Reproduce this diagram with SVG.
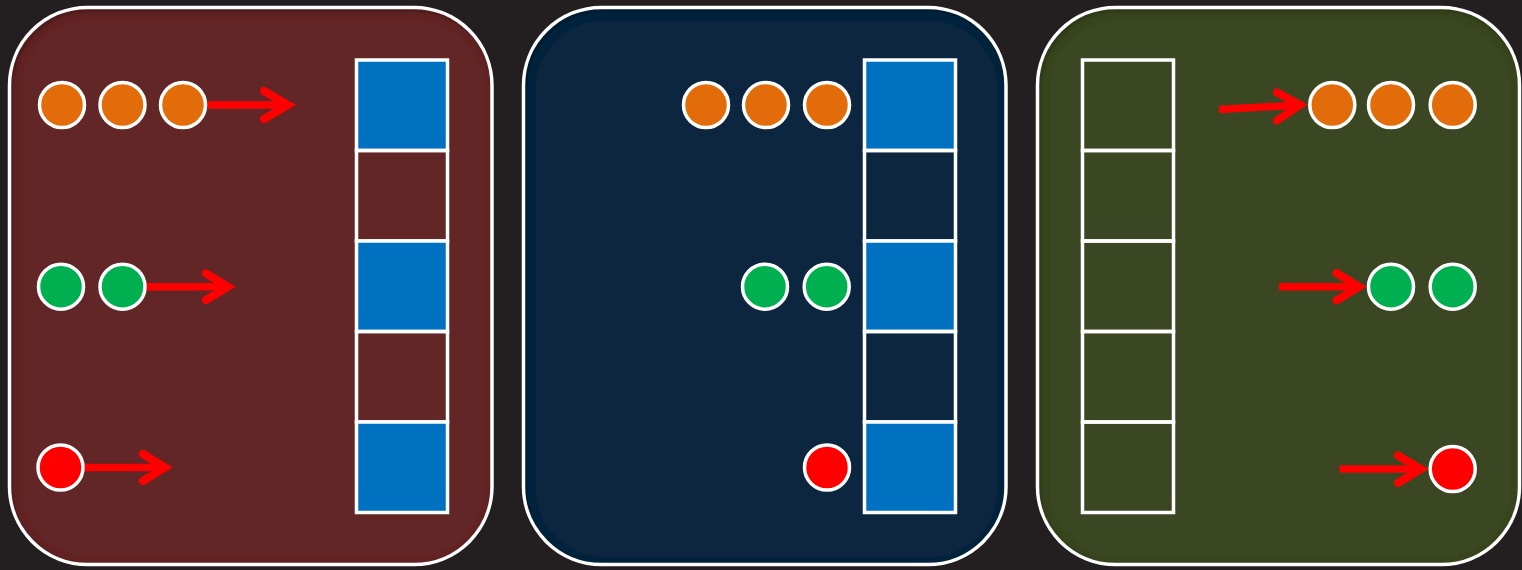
<svg xmlns="http://www.w3.org/2000/svg" width="1522" height="570" viewBox="0 0 1522 570">
<defs>
<filter id="inset" x="-10%" y="-10%" width="120%" height="120%">
<feFlood flood-color="#000" flood-opacity="0.6"/>
<feComposite in2="SourceAlpha" operator="out"/>
<feGaussianBlur stdDeviation="4"/>
<feOffset dx="2" dy="3"/>
<feComposite in2="SourceAlpha" operator="in" result="sh"/>
<feMerge><feMergeNode in="SourceGraphic"/><feMergeNode in="sh"/></feMerge>
</filter>
</defs>
<style>
.pb{stroke:#fff;stroke-width:3.5;fill:none}
.c{stroke:#fff;stroke-width:3.5}
.o{fill:#e36c0a}.g{fill:#00b050}.r{fill:#ff0000}
.cell{stroke:#fff;stroke-width:3.5;fill:none}
.blue{fill:#0070c0}
.ar{stroke:#ff0000;stroke-width:7.5;fill:none;stroke-linejoin:miter;stroke-linecap:butt}
.hd{stroke:#ff0000;stroke-width:8;fill:none;stroke-linejoin:miter;stroke-miterlimit:10;stroke-linecap:round}
</style>
<rect width="1522" height="570" fill="#231f20"/>

<g id="panel1">
<rect x="9.5" y="7.5" width="482.5" height="557" rx="78" fill="#632526" filter="url(#inset)"/>
<rect class="pb" x="9.5" y="7.5" width="482.5" height="557" rx="78"/>
</g>
<g id="panel2">
<rect x="523.5" y="7.5" width="482.5" height="557" rx="78" fill="#112540" filter="url(#inset)"/>
<rect class="pb" x="523.5" y="7.5" width="482.5" height="557" rx="78"/>
</g>
<g id="panel3">
<rect x="1037.5" y="7.5" width="482" height="557" rx="78" fill="#3a4720" filter="url(#inset)"/>
<rect class="pb" x="1037.5" y="7.5" width="482" height="557" rx="78"/>
</g>

<g id="column1">
<rect class="cell blue" x="356.5" y="60" width="91" height="90.5"/>
<rect class="cell" x="356.5" y="150.5" width="91" height="90.5"/>
<rect class="cell blue" x="356.5" y="241" width="91" height="90.5"/>
<rect class="cell" x="356.5" y="331.5" width="91" height="90.5"/>
<rect class="cell blue" x="356.5" y="422" width="91" height="90.5"/>
</g>
<g id="column2">
<rect class="cell blue" x="864.5" y="60" width="91" height="90.5"/>
<rect class="cell" x="864.5" y="150.5" width="91" height="90.5"/>
<rect class="cell blue" x="864.5" y="241" width="91" height="90.5"/>
<rect class="cell" x="864.5" y="331.5" width="91" height="90.5"/>
<rect class="cell blue" x="864.5" y="422" width="91" height="90.5"/>
</g>
<g id="column3">
<rect class="cell" x="1082.5" y="60" width="91" height="90.5"/>
<rect class="cell" x="1082.5" y="150.5" width="91" height="90.5"/>
<rect class="cell" x="1082.5" y="241" width="91" height="90.5"/>
<rect class="cell" x="1082.5" y="331.5" width="91" height="90.5"/>
<rect class="cell" x="1082.5" y="422" width="91" height="90.5"/>
</g>

<g id="connectors">
<path class="ar" d="M205 105 H289"/>
<path class="hd" d="M264 91 L288 105 L264 119"/>
<path class="ar" d="M144 286.7 H228"/>
<path class="hd" d="M206 273.5 L228 286.7 L206 300"/>
<path class="ar" d="M82 467.5 H166"/>
<path class="hd" d="M143 454 L165 467.5 L143 481"/>
<path class="ar" d="M1219 109.5 L1301 105"/>
<path class="hd" d="M1277 92.5 L1300 104.8 L1277 120.5"/>
<path class="ar" d="M1279 286.7 H1360"/>
<path class="hd" d="M1336.5 273 L1359 286.7 L1336.5 300.5"/>
<path class="ar" d="M1339.5 469 H1422"/>
<path class="hd" d="M1398 455.5 L1421 469 L1398 483"/>
</g>

<g id="circles1">
<circle class="c o" cx="62" cy="105" r="22.5"/>
<circle class="c o" cx="122.5" cy="105" r="22.5"/>
<circle class="c o" cx="183" cy="105" r="22.5"/>
<circle class="c g" cx="61" cy="286.7" r="22.5"/>
<circle class="c g" cx="122.5" cy="286.7" r="22.5"/>
<circle class="c r" cx="60.5" cy="467.5" r="22.5"/>
</g>
<g id="circles2">
<circle class="c o" cx="706" cy="105" r="22.5"/>
<circle class="c o" cx="766" cy="105" r="22.5"/>
<circle class="c o" cx="827" cy="105" r="22.5"/>
<circle class="c g" cx="765" cy="286.7" r="22.5"/>
<circle class="c g" cx="826.7" cy="286.7" r="22.5"/>
<circle class="c r" cx="827" cy="467.5" r="22.5"/>
</g>
<g id="circles3">
<circle class="c o" cx="1332.3" cy="105" r="22.5"/>
<circle class="c o" cx="1391" cy="105" r="22.5"/>
<circle class="c o" cx="1452.7" cy="105" r="22.5"/>
<circle class="c g" cx="1391" cy="286.7" r="22.5"/>
<circle class="c g" cx="1452.7" cy="286.7" r="22.5"/>
<circle class="c r" cx="1452.7" cy="469" r="22.5"/>
</g>
</svg>
